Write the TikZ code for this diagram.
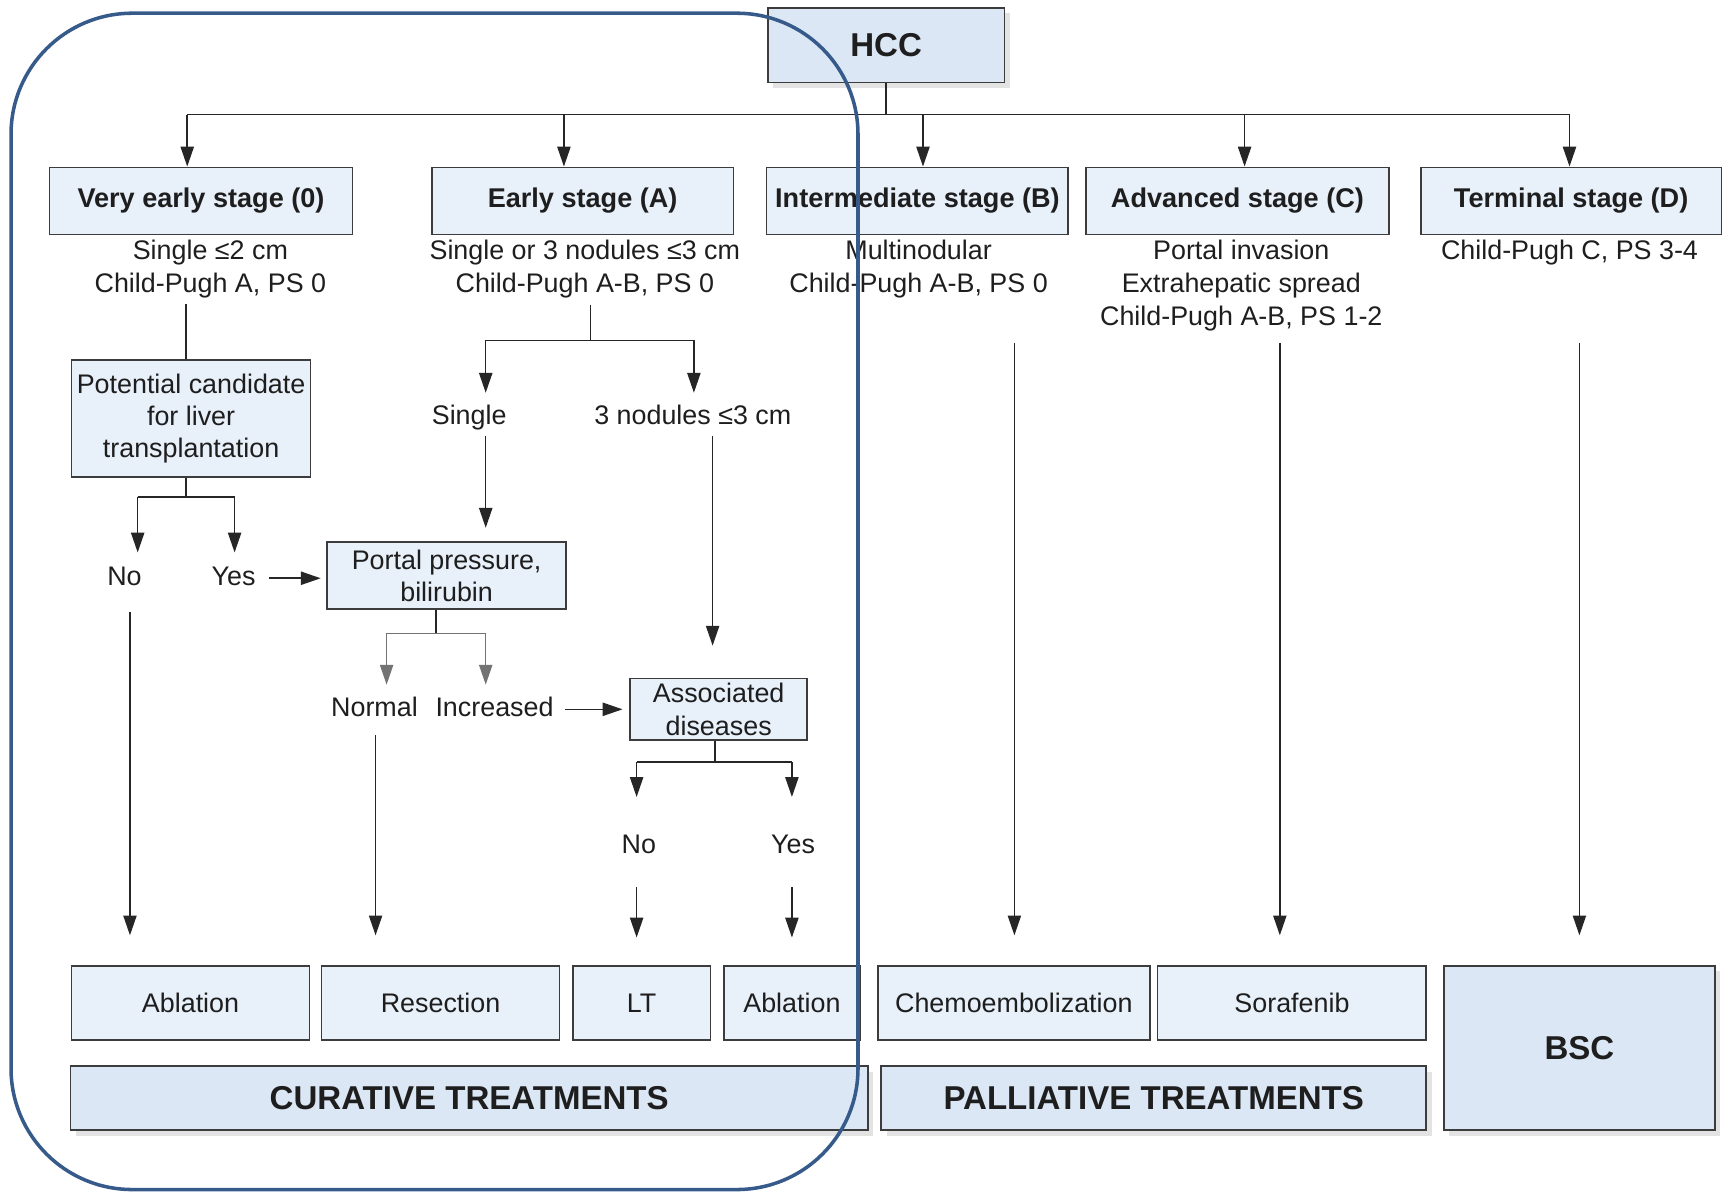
\documentclass[tikz,border=0pt]{standalone}
\usepackage{fontspec}
\setmainfont{Liberation Sans}
\usetikzlibrary{arrows.meta,shadows}
\definecolor{boxfill}{HTML}{E8F0FA}
\definecolor{darkfill}{HTML}{DBE7F5}
\definecolor{boxline}{HTML}{3C3C3C}
\definecolor{navy}{HTML}{365A8A}
\definecolor{txt}{HTML}{1E1E1E}
\begin{document}
\begin{tikzpicture}[x=0.5pt,y=-0.5pt,
  every node/.style={text=txt, font=\fontsize{12.2}{15}\selectfont},
  box/.style={draw=boxline, line width=0.8pt, fill=boxfill, inner sep=0pt, align=center},
  ptbox/.style={box, font=\fontsize{12.2}{14.5}\selectfont},
  bigbox/.style={box, fill=darkfill, font=\fontsize{15}{18}\bfseries\selectfont,
    drop shadow={shadow xshift=2.5pt, shadow yshift=-2.5pt, opacity=0.22}},
  stagebox/.style={box, font=\fontsize{12.3}{15}\bfseries\selectfont},
  sub/.style={inner sep=0pt, align=center},
  lbl/.style={inner sep=0pt, text height=8.8pt, text depth=2.6pt},
  conn/.style={draw=black!85, line width=0.7pt},
  gconn/.style={draw=black!55, line width=0.7pt},
  arr/.style={conn, -{Triangle[length=9pt,width=6pt]}},
  garr/.style={gconn, -{Triangle[length=9pt,width=6pt]}},
]
\useasboundingbox (0,0) rectangle (1568,1083);

% top
\node[bigbox, minimum width=107.5pt, minimum height=34pt] (hcc) at (804.5,41) {HCC};

% stages
\node[stagebox, minimum width=137.5pt, minimum height=30.5pt] (s0) at (182.5,182.5) {Very early stage (0)};
\node[stagebox, minimum width=137pt, minimum height=30.5pt] (sA) at (529,182.5) {Early stage (A)};
\node[stagebox, minimum width=137pt, minimum height=30.5pt] (sB) at (833,182.5) {Intermediate stage (B)};
\node[stagebox, minimum width=137.5pt, minimum height=30.5pt] (sC) at (1123.5,182.5) {Advanced stage (C)};
\node[stagebox, minimum width=136.5pt, minimum height=30.5pt] (sD) at (1426.5,182.5) {Terminal stage (D)};

\node[sub] (t0) at (191,244) {Single ≤2 cm\\Child-Pugh A, PS 0};
\node[sub] (tA) at (531,244) {Single or 3 nodules ≤3 cm\\Child-Pugh A-B, PS 0};
\node[sub] (tB) at (834,244) {Multinodular\\Child-Pugh A-B, PS 0};
\node[sub] (tC) at (1127,259) {Portal invasion\\Extrahepatic spread\\Child-Pugh A-B, PS 1-2};
\node[sub] (tD) at (1425,229) {Child-Pugh C, PS 3-4};

% decision boxes
\node[ptbox, minimum width=108.5pt, minimum height=53pt] (pc) at (173.5,380) {Potential candidate\\for liver\\transplantation};
\node[ptbox, minimum width=108.5pt, minimum height=30.5pt] (pp) at (405.5,522.5) {Portal pressure,\\bilirubin};
\node[box, minimum width=80.5pt, minimum height=28pt] (ad) at (652.5,644) {Associated\\diseases};

% labels
\node[lbl] (single) at (426,379) {Single};
\node[lbl] (three) at (629,379) {3 nodules ≤3 cm};
\node[lbl] (no1) at (113,525) {No};
\node[lbl] (yes1) at (212,525) {Yes};
\node[lbl] (normal) at (340,644) {Normal};
\node[lbl] (incr) at (449,644) {Increased};
\node[lbl] (no2) at (580,769) {No};
\node[lbl] (yes2) at (720,769) {Yes};

% treatments
\node[box, minimum width=108pt, minimum height=33.5pt] (abl1) at (173,910.5) {Ablation};
\node[box, minimum width=108pt, minimum height=33.5pt] (res) at (400,910.5) {Resection};
\node[box, minimum width=62.5pt, minimum height=33.5pt] (lt) at (582.5,910.5) {LT};
\node[box, minimum width=62pt, minimum height=33.5pt] (abl2) at (719,910.5) {Ablation};
\node[box, minimum width=123.5pt, minimum height=33.5pt] (chemo) at (920.5,910.5) {Chemoembolization};
\node[box, minimum width=122pt, minimum height=33.5pt] (sora) at (1173,910.5) {Sorafenib};
\node[bigbox, minimum width=123pt, minimum height=74.5pt] (bsc) at (1434,951.5) {BSC};
\node[bigbox, minimum width=362pt, minimum height=29pt] (cur) at (426,997) {CURATIVE TREATMENTS};
\node[bigbox, minimum width=247.5pt, minimum height=29pt] (pal) at (1047.5,997) {PALLIATIVE TREATMENTS};

% bus from HCC
\coordinate (bus0) at (170,104);
\coordinate (busA) at (512,104);
\coordinate (busB) at (838,104);
\coordinate (busC) at (1130,104);
\coordinate (busD) at (1425,104);
\draw[conn] (hcc.south) -- (hcc.south |- bus0);
\draw[conn] (bus0) -- (busD);
\draw[arr] (bus0) -- (bus0 |- s0.north);
\draw[arr] (busA) -- (busA |- sA.north);
\draw[arr] (busB) -- (busB |- sB.north);
\draw[arr] (busC) -- (busC |- sC.north);
\draw[arr] (busD) -- (busD |- sD.north);

% very early branch
\coordinate (c0) at (169,276);
\draw[conn] (c0) -- (c0 |- pc.north);
\coordinate (pcj) at (169,451);
\coordinate (pcL) at (125,451);
\coordinate (pcR) at (213,451);
\draw[conn] (pc.south -| pcj) -- (pcj);
\draw[conn] (pcL) -- (pcR);
\draw[arr, shorten >=5.8pt] (pcL) -- (pcL |- no1.north);
\draw[arr, shorten >=5.8pt] (pcR) -- (pcR |- yes1.north);
\draw[arr, shorten <=6pt, shorten >=2.5pt] (yes1.east) -- (pp.west |- yes1.east);
\coordinate (n1x) at (118,555);
\draw[arr, shorten <=9.3pt, shorten >=13.5pt] (no1.south -| n1x) -- (n1x |- abl1.north);

% early branch
\coordinate (cA) at (536,277);
\coordinate (aj) at (536,309);
\coordinate (aL) at (441,309);
\coordinate (aR) at (630,309);
\draw[conn] (cA) -- (aj);
\draw[conn] (aL) -- (aR);
\draw[arr, shorten >=5.3pt] (aL) -- (aL |- single.north);
\draw[arr, shorten >=5.3pt] (aR) -- (aR |- three.north);
\draw[arr, shorten <=2.3pt, shorten >=6pt] (single.south -| aL) -- (aL |- pp.north);
\coordinate (tj) at (647,395);
\draw[arr, shorten <=2.3pt, shorten >=14.5pt] (three.south -| tj) -- (tj |- ad.north);

% portal pressure branch
\coordinate (pj) at (396,575);
\coordinate (pL) at (351,575);
\coordinate (pR) at (441,575);
\draw[conn] (pp.south -| pj) -- (pj);
\draw[gconn] (pL) -- (pR);
\draw[garr, shorten >=5.3pt] (pL) -- (pL |- normal.north);
\draw[garr, shorten >=5.3pt] (pR) -- (pR |- incr.north);
\draw[arr, shorten <=5.2pt, shorten >=3pt] (incr.east) -- (ad.west |- incr.east);
\coordinate (nx) at (341,667);
\draw[arr, shorten <=5.8pt, shorten >=13.5pt] (normal.south -| nx) -- (nx |- res.north);

% associated diseases branch
\coordinate (dj) at (649,692);
\coordinate (dL) at (578,692);
\coordinate (dR) at (719,692);
\draw[conn] (ad.south -| dj) -- (dj);
\draw[conn] (dL) -- (dR);
\draw[arr, shorten >=16.8pt] (dL) -- (dL |- no2.north);
\draw[arr, shorten >=16.8pt] (dR) -- (dR |- yes2.north);
\draw[arr, shorten <=12.3pt, shorten >=12.5pt] (no2.south -| dL) -- (dL |- lt.north);
\draw[arr, shorten <=12.3pt, shorten >=12.5pt] (yes2.south -| dR) -- (dR |- abl2.north);

% palliative / terminal
\coordinate (bx) at (921,311);
\coordinate (cx) at (1162,311);
\coordinate (dx) at (1434,311);
\draw[arr, shorten >=13.5pt] (bx) -- (bx |- chemo.north);
\draw[arr, shorten >=13.5pt] (cx) -- (cx |- sora.north);
\draw[arr, shorten >=13.5pt] (dx) -- (dx |- bsc.north);

% curative frame
\draw[navy, line width=1.6pt, rounded corners=55pt] (10,12) rectangle (779,1080);
\end{tikzpicture}
\end{document}
